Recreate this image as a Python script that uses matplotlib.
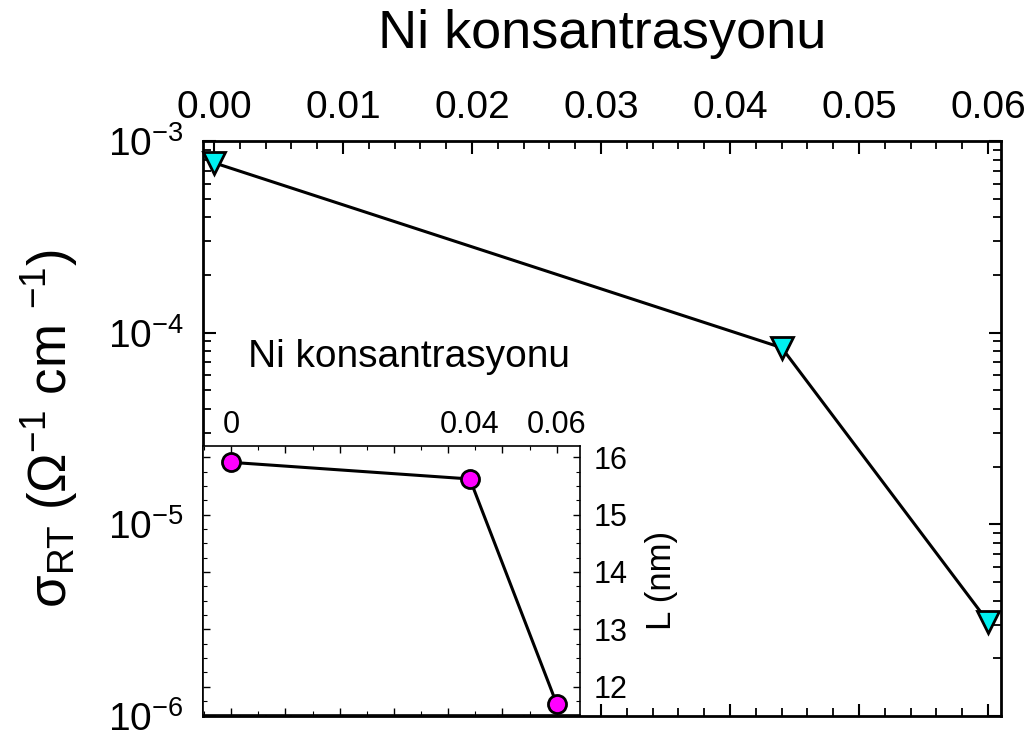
import matplotlib
matplotlib.use("Agg")
import matplotlib.pyplot as plt
from matplotlib.ticker import LogLocator, MultipleLocator, NullFormatter, LogFormatterSciNotation

plt.rcParams['font.family'] = ['Liberation Sans', 'DejaVu Sans']
plt.rcParams['mathtext.fontset'] = 'custom'
plt.rcParams['mathtext.rm'] = 'Liberation Sans'
plt.rcParams['mathtext.it'] = 'Liberation Sans:italic'
plt.rcParams['mathtext.default'] = 'regular'

# Main data
ni_conc = [0.0, 0.044, 0.06]
sigma_rt = [7.7e-4, 8.35e-5, 3.1e-6]
top_ticks = [0.00, 0.01, 0.02, 0.03, 0.04, 0.05, 0.06]
top_labels = ["0.00", "0.01", "0.02", "0.03", "0.04", "0.05", "0.06"]

# Inset data
inset_x = [0.0, 0.044, 0.06]
inset_L = [15.91, 15.62, 11.70]
inset_xlabels = ["0", "0.04", "0.06"]
inset_yticks = [12, 13, 14, 15, 16]

fig = plt.figure(figsize=(10.36, 7.4), dpi=100)
ax = fig.add_axes([203/1036, 1-716/740, (1001-203)/1036, (716-141)/740])

ax.plot(ni_conc, sigma_rt, color='black', lw=2.2, marker='v', ms=16,
        mfc='#00f0f0', mec='black', mew=2, zorder=3, clip_on=False)
ax.set_yscale('log')
ax.set_ylim(1e-6, 1e-3)
ax.set_xlim(-0.00085, 0.061)
ax.set_xticks(top_ticks, labels=top_labels)
ax.xaxis.set_minor_locator(MultipleLocator(0.002))
ax.yaxis.set_major_locator(LogLocator(base=10, numticks=10))
ax.yaxis.set_minor_locator(LogLocator(base=10, subs=range(2, 10), numticks=10))
ax.yaxis.set_minor_formatter(NullFormatter())
ax.yaxis.set_major_formatter(LogFormatterSciNotation())
ax.tick_params(axis='x', which='both', direction='in', top=True, bottom=True,
               labeltop=True, labelbottom=False, labelsize=28, pad=11)
ax.tick_params(axis='y', which='both', direction='in', left=True, right=True,
               labelsize=28, pad=14)
ax.tick_params(which='major', length=9, width=1.5)
ax.tick_params(which='minor', length=6, width=1.3)
for s in ax.spines.values():
    s.set_linewidth(2)
ax.set_ylabel(r'$\sigma_{RT}$ ($\Omega^{-1}$ cm $^{-1}$)', fontsize=38)
ax.yaxis.set_label_coords((80-203)/798, 0.5)
fig.text(602/1036, 1-34/740, 'Ni konsantrasyonu', fontsize=39, ha='center', va='center')

# Inset
axi = fig.add_axes([203/1036, 1-715.3/740, (580-203)/1036, (715.3-445.7)/740])
axi.set_facecolor('white')
axi.plot(inset_x, inset_L, color='black', lw=2.2, marker='o', ms=13,
         mfc='#ff00ff', mec='black', mew=2, zorder=3, clip_on=False)
axi.set_xlim(-0.0052, 0.0643)
axi.set_ylim(11.5, 16.2)
axi.xaxis.set_major_locator(MultipleLocator(0.01))
axi.xaxis.set_minor_locator(MultipleLocator(0.005))
axi.set_yticks(inset_yticks)
axi.yaxis.set_minor_locator(MultipleLocator(0.25))
axi.tick_params(axis='x', which='both', direction='in', top=True, bottom=True,
                labeltop=False, labelbottom=False)
axi.tick_params(axis='y', which='both', direction='in', left=True, right=True,
                labelleft=False, labelright=True, labelsize=22, pad=10)
axi.tick_params(which='major', length=5, width=1)
axi.tick_params(which='minor', length=3, width=0.8)
for s in axi.spines.values():
    s.set_linewidth(1.2)
axi.yaxis.set_label_position('right')
axi.set_ylabel('L (nm)', fontsize=25, labelpad=12)

sec = axi.secondary_xaxis('top')
sec.set_xticks(inset_x, labels=inset_xlabels)
sec.tick_params(length=0, labelsize=22, pad=4)
sec.spines['top'].set_visible(False)
axi.text((409-203)/377, (715.3-357)/269.6, 'Ni konsantrasyonu', transform=axi.transAxes,
         fontsize=28, ha='center', va='center')

fig.savefig('out.png', dpi=100)
